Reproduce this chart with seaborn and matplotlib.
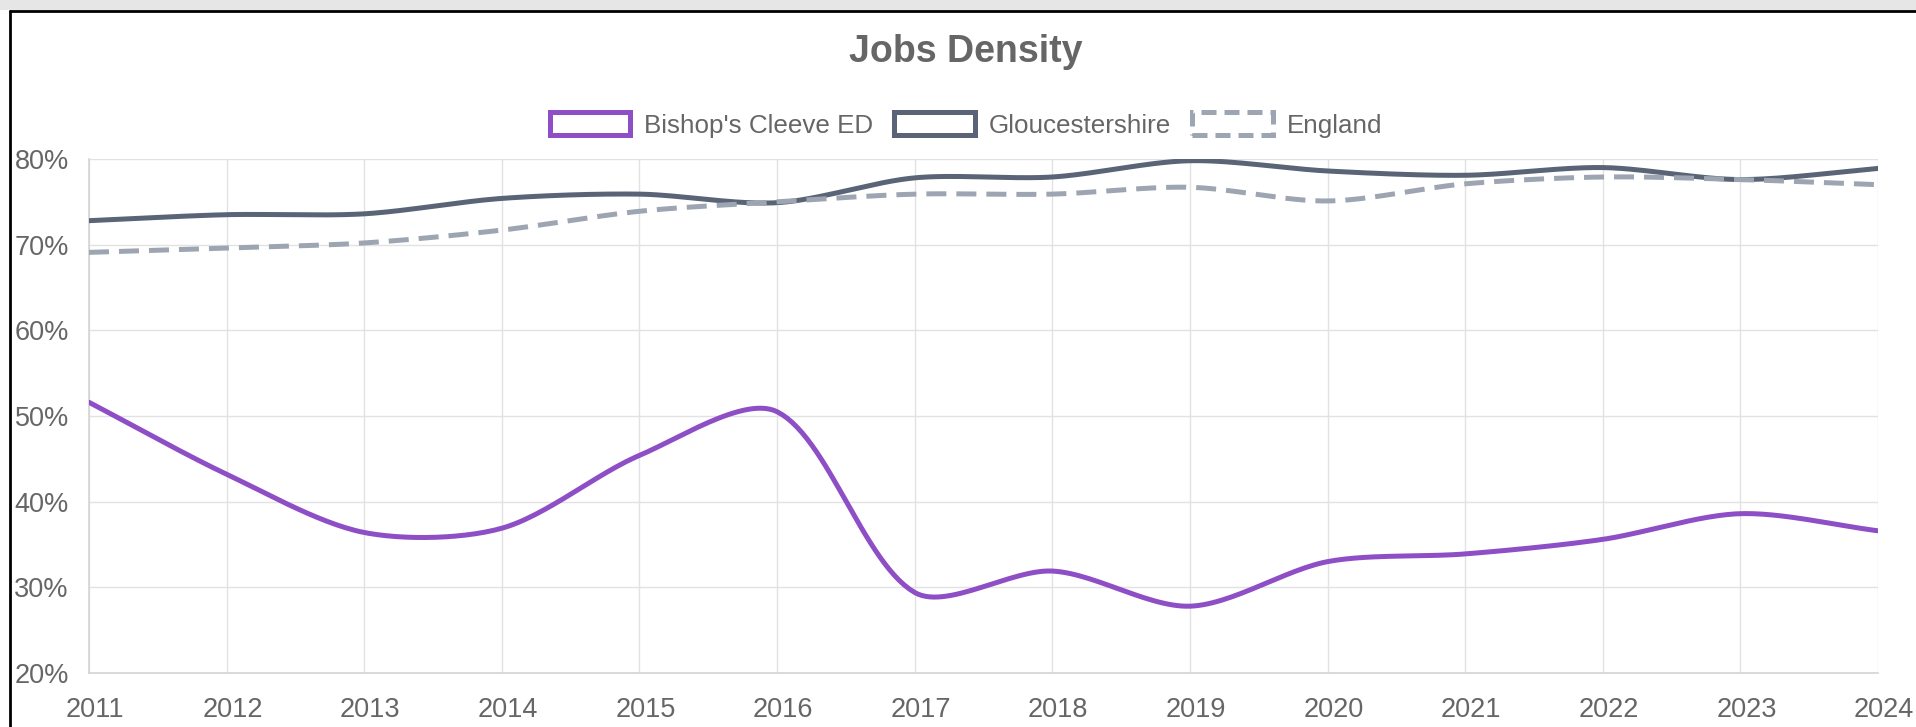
import numpy as np
import pandas as pd
import matplotlib
matplotlib.use('Agg')
import matplotlib.pyplot as plt
import matplotlib.transforms as mtransforms
from matplotlib.patches import Patch, Rectangle
from matplotlib.lines import Line2D
import seaborn as sns

# Data (jobs density, %)
years = list(range(2011, 2025))
bishops_cleeve = [51.6, 43.2, 36.4, 36.9, 45.4, 50.5, 29.4, 31.9, 27.8, 33.0, 33.9, 35.6, 38.6, 36.6]
gloucestershire = [72.8, 73.5, 73.6, 75.4, 75.9, 74.9, 77.8, 77.9, 79.8, 78.6, 78.1, 79.0, 77.6, 78.9]
england = [69.1, 69.6, 70.2, 71.7, 73.9, 75.0, 75.9, 75.9, 76.7, 75.1, 77.1, 77.9, 77.6, 77.0]
series_names = ["Bishop's Cleeve ED", "Gloucestershire", "England"]
y_ticks = [20, 30, 40, 50, 60, 70, 80]

colors = {"Bishop's Cleeve ED": '#8e4ec6', 'Gloucestershire': '#5a6477', 'England': '#9ea5b2'}
TEXT = '#666666'
GRID = '#e2e2e2'


def smooth(xs, ys, tension=0.3, sx=137.6, sy=8.58, n=30):
    # chart.js style cubic spline, control points worked out in pixel space
    p = np.column_stack([np.asarray(xs, float) * sx, np.asarray(ys, float) * sy])
    cp_in, cp_out = [], []
    for i in range(len(p)):
        prev = p[i - 1] if i > 0 else p[i]
        nxt = p[i + 1] if i < len(p) - 1 else p[i]
        d01 = np.hypot(*(p[i] - prev))
        d12 = np.hypot(*(nxt - p[i]))
        tot = d01 + d12
        s01 = d01 / tot if tot else 0
        s12 = d12 / tot if tot else 0
        cp_in.append(p[i] - tension * s01 * (nxt - prev))
        cp_out.append(p[i] + tension * s12 * (nxt - prev))
    t = np.linspace(0, 1, n)[:, None]
    out = [p[:1]]
    for i in range(len(p) - 1):
        b = ((1 - t) ** 3 * p[i] + 3 * (1 - t) ** 2 * t * cp_out[i]
             + 3 * (1 - t) * t ** 2 * cp_in[i + 1] + t ** 3 * p[i + 1])
        out.append(b[1:])
    out = np.vstack(out)
    return out[:, 0] / sx, out[:, 1] / sy


frames = []
for name, vals in zip(series_names, [bishops_cleeve, gloucestershire, england]):
    sx_, sy_ = smooth(years, vals)
    frames.append(pd.DataFrame({'year': sx_, 'value': sy_, 'series': name}))
df = pd.concat(frames, ignore_index=True)

sns.set_theme(style='white')
plt.rcParams['font.family'] = ['Liberation Sans', 'DejaVu Sans']

fig = plt.figure(figsize=(19.16, 7.27), dpi=100)
ax = fig.add_axes([89 / 1916, 54 / 727, (1878 - 89) / 1916, (673 - 159) / 727])

sns.lineplot(data=df, x='year', y='value', hue='series', style='series',
             hue_order=series_names, style_order=series_names,
             palette=colors, dashes={"Bishop's Cleeve ED": '', 'Gloucestershire': '', 'England': (4, 2)},
             sort=False, estimator=None, linewidth=3.6, legend=False, ax=ax, zorder=3)

ax.set_xlim(years[0], years[-1])
ax.set_ylim(y_ticks[0], y_ticks[-1])
ax.set_xticks(years)
ax.set_xticklabels([str(y) for y in years])
ax.set_yticks(y_ticks)
ax.set_yticklabels([f'{v}%' for v in y_ticks])
ax.set_xlabel('')
ax.set_ylabel('')
ax.grid(True, color=GRID, linewidth=1.0)
ax.tick_params(axis='both', colors=GRID, labelcolor=TEXT, labelsize=19.5, length=7, width=1.0)
ax.tick_params(axis='x', pad=10)
ax.tick_params(axis='y', pad=7.5)
# year labels sit a few pixels right of their ticks in the original
shift = mtransforms.ScaledTranslation(6 / 100, 0, fig.dpi_scale_trans)
for lab in ax.get_xticklabels():
    lab.set_transform(lab.get_transform() + shift)
for s in ['top', 'right']:
    ax.spines[s].set_visible(False)
for s in ['left', 'bottom']:
    ax.spines[s].set_color('#d4d4d4')
    ax.spines[s].set_linewidth(1.2)

fig.text(966 / 1916, 1 - 52 / 727, 'Jobs Density', ha='center', va='center',
         fontsize=27, fontweight='bold', color=TEXT)

handles = [Patch(facecolor='white', edgecolor=colors[n], linewidth=3.6,
                 linestyle=(0, (3, 1.6)) if n == 'England' else '-', label=n)
           for n in series_names]
leg = fig.legend(handles=handles, loc='center', bbox_to_anchor=(966 / 1916, 1 - 125 / 727),
                 ncol=3, frameon=False, fontsize=18.7, handlelength=3.1, handleheight=0.95,
                 handletextpad=0.55, columnspacing=0.8, labelcolor=TEXT)

# page frame around the chart
fig.add_artist(Rectangle((0, 1 - 10 / 727), 1, 10 / 727, transform=fig.transFigure,
                         facecolor='#e6e6e6', edgecolor='none'))
fig.add_artist(Line2D([10 / 1916, 1], [1 - 11 / 727] * 2, transform=fig.transFigure, color='black', lw=2))
fig.add_artist(Line2D([10 / 1916] * 2, [0, 1 - 11 / 727], transform=fig.transFigure, color='black', lw=2))

fig.savefig('out.png', dpi=100, facecolor='white')
